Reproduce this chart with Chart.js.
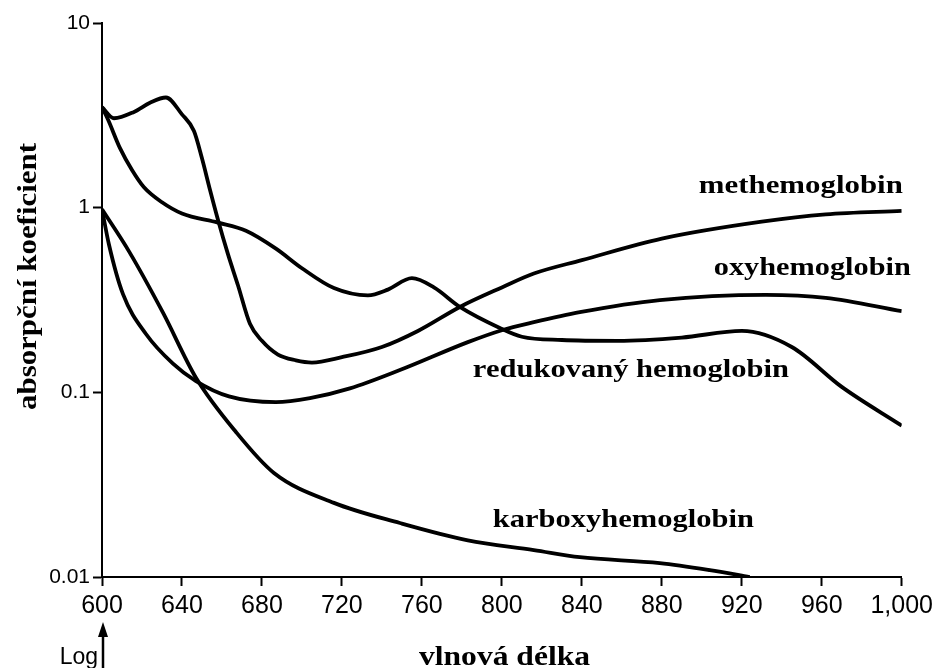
<!DOCTYPE html>
<html>
<head>
<meta charset="utf-8">
<script src="https://cdn.jsdelivr.net/npm/chart.js@4.4.1/dist/chart.umd.min.js"></script>
<style>
  html, body { margin: 0; padding: 0; background: #fff; }
  #wrap { width: 938px; height: 668px; position: relative; }
</style>
</head>
<body>
<div id="wrap"><canvas id="chart"></canvas></div>
<script>
// wavelength (nm) / absorption coefficient
const metWl  = [600, 606, 616, 624, 632, 640, 646, 650, 654, 658, 663, 668, 674, 680, 688, 697, 705, 720, 740, 758, 779, 800, 816, 840, 880, 930, 962, 1000];
const metVal = [3.5, 3.05, 3.3, 3.7, 3.95, 3.2, 2.6, 1.85, 1.25, 0.86, 0.56, 0.38, 0.235, 0.19, 0.16, 0.149, 0.145, 0.155, 0.176, 0.215, 0.29, 0.37, 0.44, 0.52, 0.68, 0.84, 0.92, 0.96];

const redWl  = [600, 603, 609, 615, 621, 630, 640, 658, 672, 687, 700, 716, 733, 743, 755, 766, 779, 799, 810, 830, 858, 890, 920, 945, 970, 1000];
const redVal = [3.5, 3.0, 2.1, 1.6, 1.29, 1.07, 0.93, 0.83, 0.75, 0.6, 0.47, 0.367, 0.335, 0.36, 0.415, 0.37, 0.29, 0.223, 0.2, 0.192, 0.19, 0.198, 0.215, 0.176, 0.107, 0.066];

const oxyWl  = [600, 603.5, 610.5, 622, 635.5, 647, 663.5, 687, 704, 724, 749, 783, 800, 816, 839, 879, 932, 962, 1000];
const oxyVal = [0.98, 0.63, 0.34, 0.207, 0.143, 0.115, 0.095, 0.0885, 0.093, 0.105, 0.132, 0.187, 0.217, 0.24, 0.272, 0.316, 0.337, 0.325, 0.275];

const carbWl  = [600, 613.5, 630.5, 647, 667, 686, 716, 749, 783, 816, 839, 879, 904, 924];
const carbVal = [0.98, 0.58, 0.27, 0.12, 0.061, 0.0366, 0.0252, 0.0196, 0.0158, 0.014, 0.0128, 0.0119, 0.0109, 0.0100];

const xTicks = [600, 640, 680, 720, 760, 800, 840, 880, 920, 960, 1000];
const yTicks = [0.01, 0.1, 1, 10];
const yTickLabels = ['0.01', '0.1', '1', '10'];

const curveNames = ['methemoglobin', 'oxyhemoglobin', 'redukovaný hemoglobin', 'karboxyhemoglobin'];
const xTitle = 'vlnová délka';
const yTitle = 'absorpční koeficient';

const toPoints = (wl, val) => wl.map((w, i) => ({ x: w, y: val[i] }));

// serif captions in the figure are stretched horizontally, so draw them by hand
const captionPlugin = {
    id: 'captions',
    afterDraw(chart, args, opts) {
        const { ctx, scales: { x, y } } = chart;
        const serif = (size) => `bold ${size}px "Liberation Serif", "Times New Roman", serif`;

        const stretched = (text, px, py, width, size, rotate) => {
            ctx.save();
            ctx.font = serif(size);
            const sx = width / ctx.measureText(text).width;
            ctx.translate(px, py);
            if (rotate) ctx.rotate(-Math.PI / 2);
            ctx.scale(sx, 1);
            ctx.fillStyle = '#000';
            ctx.textAlign = 'left';
            ctx.textBaseline = 'alphabetic';
            ctx.fillText(text, 0, 0);
            ctx.restore();
        };

        opts.labels.forEach(l => {
            stretched(l.text, x.getPixelForValue(l.wl), y.getPixelForValue(l.val), l.width, l.size, false);
        });

        // axis titles
        stretched(yTitle, 36, 410, 267, 28, true);
        stretched(xTitle, 419, 665, 171, 27, false);

        // "Log" with arrow under the origin
        const ax = x.getPixelForValue(600) + 1;
        ctx.save();
        ctx.fillStyle = '#000';
        ctx.strokeStyle = '#000';
        ctx.font = '23px "Liberation Sans", Arial, sans-serif';
        ctx.textAlign = 'right';
        ctx.textBaseline = 'alphabetic';
        ctx.fillText('Log', ax - 5, 664);
        ctx.lineWidth = 2.5;
        ctx.beginPath();
        ctx.moveTo(ax, 668);
        ctx.lineTo(ax, 634);
        ctx.stroke();
        ctx.beginPath();
        ctx.moveTo(ax, 622);
        ctx.lineTo(ax - 5, 637);
        ctx.lineTo(ax + 5, 637);
        ctx.closePath();
        ctx.fill();
        ctx.restore();
    }
};

const lineStyle = {
    borderColor: '#000',
    borderWidth: 3.8,
    pointRadius: 0,
    fill: false,
    cubicInterpolationMode: 'monotone'
};

new Chart(document.getElementById('chart'), {
    type: 'line',
    data: {
        datasets: [
            { label: curveNames[0], data: toPoints(metWl, metVal), ...lineStyle },
            { label: curveNames[1], data: toPoints(oxyWl, oxyVal), ...lineStyle },
            { label: curveNames[2], data: toPoints(redWl, redVal), ...lineStyle },
            { label: curveNames[3], data: toPoints(carbWl, carbVal), ...lineStyle }
        ]
    },
    options: {
        responsive: true,
        maintainAspectRatio: false,
        animation: false,
        layout: { padding: { top: 23, right: 36, left: 0, bottom: 0 } },
        plugins: {
            legend: { display: false },
            tooltip: { enabled: false },
            captions: {
                labels: [
                    { text: curveNames[0], wl: 898.5, val: 1.2, width: 204, size: 25 },
                    { text: curveNames[1], wl: 906, val: 0.43, width: 197, size: 25 },
                    { text: curveNames[2], wl: 785.5, val: 0.121, width: 316, size: 25 },
                    { text: curveNames[3], wl: 795.5, val: 0.0187, width: 261, size: 25 }
                ]
            }
        },
        scales: {
            x: {
                type: 'linear',
                min: 600,
                max: 1000,
                afterBuildTicks: axis => { axis.ticks = xTicks.map(v => ({ value: v })); },
                afterFit: scale => { scale.height = 91; },
                ticks: {
                    callback: v => v.toLocaleString('en-US'),
                    color: '#000',
                    font: { family: 'Liberation Sans', size: 25 },
                    padding: 5,
                    maxRotation: 0,
                    autoSkip: false
                },
                grid: { drawOnChartArea: false, tickLength: 9, tickWidth: 2, color: '#000' },
                border: { color: '#000', width: 2 }
            },
            y: {
                type: 'logarithmic',
                min: 0.01,
                max: 10,
                afterBuildTicks: axis => { axis.ticks = yTicks.map(v => ({ value: v })); },
                afterFit: scale => { scale.width = 102; },
                ticks: {
                    callback: (v, i) => yTickLabels[i],
                    color: '#000',
                    font: { family: 'Liberation Sans', size: 21 },
                    padding: 3,
                    autoSkip: false
                },
                grid: { drawOnChartArea: false, tickLength: 9, tickWidth: 2, color: '#000' },
                border: { color: '#000', width: 2 }
            }
        }
    },
    plugins: [captionPlugin]
});
</script>
</body>
</html>
